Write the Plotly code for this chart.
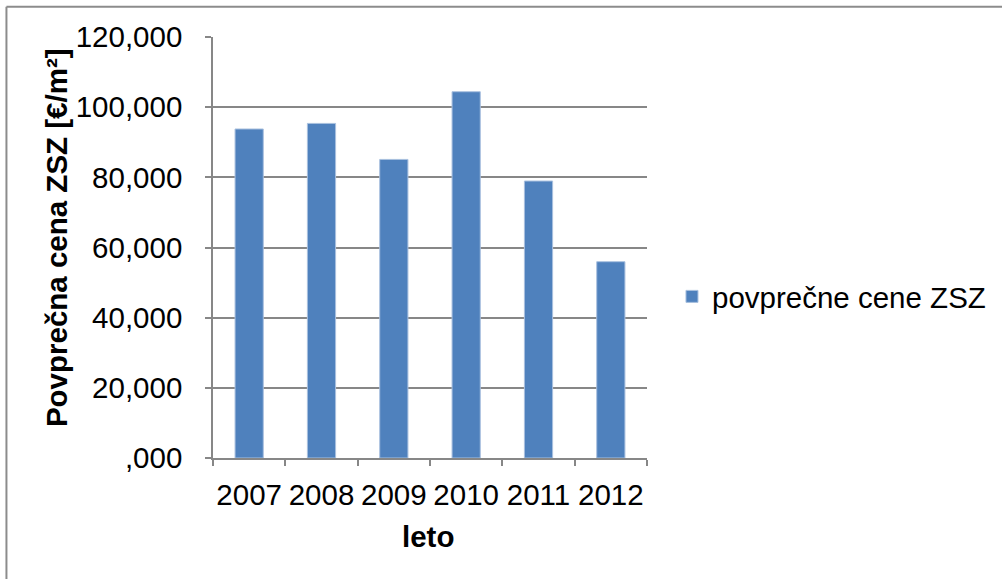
import plotly.graph_objects as go

years = ["2007", "2008", "2009", "2010", "2011", "2012"]
prices = [93780, 95370, 85110, 104400, 78950, 55950]
series_name = "povprečne cene ZSZ"
y_tick_vals = [0, 20000, 40000, 60000, 80000, 100000, 120000]
y_tick_text = [",000", "20,000", "40,000", "60,000", "80,000", "100,000", "120,000"]
x_title = "leto"
y_title = "Povprečna cena ZSZ [€/m²]"

W, H = 1002, 579
L, R, T, B = 212.7, 647.0, 37.3, 458.3
pw, ph = R - L, B - T

def px(x):
    return (x - L) / pw

def py(y):
    return (B - y) / ph

FONT = "Arial, 'Liberation Sans', sans-serif"
GRID = "#878787"
FS = 29.5

fig = go.Figure()
fig.add_trace(go.Bar(
    x=years, y=prices, name=series_name,
    marker=dict(color="#4F81BD", line=dict(color="#A9C0DF", width=1)),
    width=0.39,
))

fig.update_layout(
    width=W, height=H,
    margin=dict(l=L, r=W - R, t=T, b=H - B, autoexpand=False),
    paper_bgcolor="white", plot_bgcolor="white",
    font=dict(family=FONT, size=FS, color="black"),
    showlegend=True,
    legend=dict(x=px(672), y=py(297), xanchor="left", yanchor="middle",
                font=dict(size=FS), bgcolor="rgba(0,0,0,0)", itemwidth=30),
    xaxis=dict(
        type="category", showline=True, linecolor=GRID, linewidth=1.5,
        ticks="outside", tickson="boundaries", ticklen=6, tickcolor=GRID, tickwidth=1.5,
        showgrid=False, tickfont=dict(size=FS), ticklabelstandoff=10, tickangle=0,
    ),
    yaxis=dict(
        range=[0, 120000], tickvals=y_tick_vals, ticktext=y_tick_text,
        showline=True, linecolor=GRID, linewidth=1.5,
        ticks="outside", ticklen=6, tickcolor=GRID, tickwidth=1.5,
        showgrid=True, gridcolor=GRID, gridwidth=1.5,
        tickfont=dict(size=FS), ticklabelstandoff=17, zeroline=False,
    ),
    annotations=[
        dict(text="<b>" + x_title + "</b>", x=px(428), y=py(537), xref="paper", yref="paper",
             showarrow=False, xanchor="center", yanchor="middle", font=dict(size=FS)),
        dict(text="<b>" + y_title + "</b>", x=px(56), y=py(238), xref="paper", yref="paper",
             showarrow=False, xanchor="center", yanchor="middle", textangle=-90,
             font=dict(size=FS)),
    ],
    shapes=[
        dict(type="line", xref="paper", yref="paper", x0=px(6), x1=px(6), y0=py(7), y1=py(600),
             line=dict(color="#8C8C8C", width=2)),
        dict(type="line", xref="paper", yref="paper", x0=px(6), x1=px(1010), y0=py(7), y1=py(7),
             line=dict(color="#8C8C8C", width=2)),
    ],
)

fig.write_html("out.html")
